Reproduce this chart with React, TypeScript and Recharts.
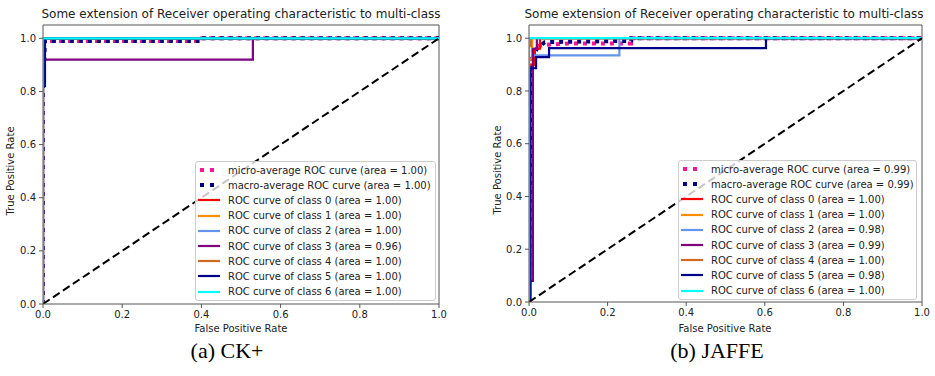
import React from 'react';
import { LineChart, Line, XAxis, YAxis, ReferenceLine } from 'recharts';

// ROC points as [fpr, tpr]
const ckMicro = [[0, 0], [0, 0.99], [0.39, 0.99], [0.39, 1], [1, 1]];
const ckMacro = [[0, 0], [0, 0.82], [0.005, 0.99], [0.39, 0.99], [0.39, 1], [1, 1]];
const ckClass0 = [[0, 0], [0, 1], [1, 1]];
const ckClass1 = [[0, 0], [0, 1], [1, 1]];
const ckClass2 = [[0, 0], [0, 1], [1, 1]];
const ckClass3 = [[0, 0], [0, 0.92], [0.53, 0.92], [0.53, 1], [1, 1]];
const ckClass4 = [[0, 0], [0, 1], [1, 1]];
const ckClass5 = [[0, 0], [0, 0.82], [0.005, 0.82], [0.005, 1], [1, 1]];
const ckClass6 = [[0, 0], [0, 1], [1, 1]];
const ckAreas = ['1.00', '1.00', '1.00', '1.00', '1.00', '0.96', '1.00', '1.00', '1.00'];

const jfMicro = [[0, 0], [0, 0.88], [0.005, 0.88], [0.005, 0.94], [0.01, 0.95], [0.02, 0.97], [0.04, 0.975], [0.1, 0.98], [0.26, 0.98], [0.26, 1], [1, 1]];
const jfMacro = [[0, 0], [0.003, 0.8], [0.01, 0.93], [0.02, 0.96], [0.04, 0.985], [0.26, 0.99], [0.26, 1], [1, 1]];
const jfClass0 = [[0, 0], [0, 0.9], [0.015, 0.9], [0.015, 0.96], [0.028, 0.96], [0.028, 1], [1, 1]];
const jfClass1 = [[0, 0], [0, 0.92], [0.008, 0.92], [0.008, 1], [1, 1]];
const jfClass2 = [[0, 0], [0, 0.88], [0.01, 0.88], [0.01, 0.935], [0.23, 0.935], [0.23, 1], [1, 1]];
const jfClass3 = [[0, 0], [0, 0.08], [0.01, 0.08], [0.01, 0.96], [0.02, 0.96], [0.02, 1], [1, 1]];
const jfClass4 = [[0, 0], [0, 0.97], [0.005, 0.97], [0.005, 1], [1, 1]];
const jfClass5 = [[0, 0], [0.004, 0], [0.004, 0.886], [0.018, 0.886], [0.018, 0.928], [0.051, 0.928], [0.051, 0.962], [0.603, 0.962], [0.603, 1], [1, 1]];
const jfClass6 = [[0, 0], [0, 1], [1, 1]];
const jfAreas = ['0.99', '0.99', '1.00', '1.00', '0.98', '0.99', '1.00', '0.98', '1.00'];

const chance = [[0, 0], [1, 1]];
const ticks = [0, 0.2, 0.4, 0.6, 0.8, 1.0];

const seriesNames = [
  'micro-average ROC curve',
  'macro-average ROC curve',
  'ROC curve of class 0',
  'ROC curve of class 1',
  'ROC curve of class 2',
  'ROC curve of class 3',
  'ROC curve of class 4',
  'ROC curve of class 5',
  'ROC curve of class 6',
];
const colors = ['#ff1493', '#000080', '#ff0000', '#ff8c00', '#6495ed', '#800080', '#d2691e', '#00008b', '#00ffff'];

const FONT = '"DejaVu Sans", sans-serif';
const SPINE = '#555';

const toRows = (pts: number[][]) => pts.map(([fpr, tpr]) => ({ fpr, tpr }));

function Legend({ areas, left, top, width }: any) {
  return (
    <div style={{
      position: 'absolute', left, top, width, height: 140, background: 'rgba(255,255,255,0.78)',
      border: '1px solid #ccc', borderRadius: 3, boxSizing: 'border-box', fontFamily: FONT, fontSize: 10, color: '#222',
    }}>
      {seriesNames.map((n, i) => (
        <div key={n} style={{ position: 'absolute', left: 2, top: 0.5 + i * 15.2, height: 15, display: 'flex', alignItems: 'center' }}>
          <svg width={24} height={6} style={{ marginRight: 6 }}>
            {i < 2
              ? <line x1={2} y1={3} x2={16} y2={3} stroke={colors[i]} strokeWidth={4} strokeDasharray="4 6" />
              : <line x1={0} y1={3} x2={22} y2={3} stroke={colors[i]} strokeWidth={2.2} />}
          </svg>
          <span style={{ whiteSpace: 'nowrap' }}>{`${n} (area = ${areas[i]})`}</span>
        </div>
      ))}
    </div>
  );
}

function RocPanel({ series, width, yWidth, rightMargin, bottomMargin }: any) {
  const tick = { fontSize: 10, fill: '#222', fontFamily: FONT };
  return (
    <LineChart width={width} height={340} margin={{ top: 25, right: rightMargin, left: 0, bottom: bottomMargin }}>
      <XAxis type="number" dataKey="fpr" domain={[0, 1]} ticks={ticks} allowDataOverflow
        tickFormatter={(v: number) => v.toFixed(1)} tick={tick} tickSize={4} tickMargin={3}
        stroke={SPINE} height={30} />
      <YAxis type="number" dataKey="tpr" domain={[0, 1.05]} ticks={ticks} allowDataOverflow
        tickFormatter={(v: number) => v.toFixed(1)} tick={tick} tickSize={4} tickMargin={3}
        stroke={SPINE} width={yWidth} />
      <ReferenceLine y={1.05} stroke={SPINE} />
      <ReferenceLine x={1} stroke={SPINE} />
      {series.map((pts: number[][], i: number) => (
        <Line key={i} data={toRows(pts)} dataKey="tpr" type="linear" dot={false} isAnimationActive={false}
          stroke={colors[i]} strokeWidth={i < 2 ? 4 : 2.2} strokeDasharray={i < 2 ? '4 5' : undefined} />
      ))}
      <Line data={toRows(chance)} dataKey="tpr" type="linear" dot={false} isAnimationActive={false}
        stroke="#000" strokeWidth={2} strokeDasharray="8 4" />
    </LineChart>
  );
}

const textBase: React.CSSProperties = { position: 'absolute', fontFamily: FONT, color: '#222', whiteSpace: 'nowrap', transform: 'translate(-50%, -50%)' };

export default function App() {
  const ck = [ckMicro, ckMacro, ckClass0, ckClass1, ckClass2, ckClass3, ckClass4, ckClass5, ckClass6];
  const jf = [jfMicro, jfMacro, jfClass0, jfClass1, jfClass2, jfClass3, jfClass4, jfClass5, jfClass6];
  return (
    <div style={{ position: 'absolute', left: 0, top: 0, width: 935, height: 376, background: '#fff', overflow: 'hidden' }}>
      <div style={{ position: 'absolute', left: 0, top: 0 }}>
        <RocPanel series={ck} width={460} yWidth={43} rightMargin={21} bottomMargin={6} />
      </div>
      <div style={{ position: 'absolute', left: 470, top: 0 }}>
        <RocPanel series={jf} width={465} yWidth={59} rightMargin={13} bottomMargin={8} />
      </div>

      <Legend areas={ckAreas} left={195} top={161} width={241} />
      <Legend areas={jfAreas} left={678} top={160} width={239} />

      <div style={{ ...textBase, left: 241, top: 14, fontSize: 12 }}>Some extension of Receiver operating characteristic to multi-class</div>
      <div style={{ ...textBase, left: 724, top: 14, fontSize: 12 }}>Some extension of Receiver operating characteristic to multi-class</div>

      <div style={{ ...textBase, left: 241, top: 328, fontSize: 10 }}>False Positive Rate</div>
      <div style={{ ...textBase, left: 725, top: 328, fontSize: 10 }}>False Positive Rate</div>
      <div style={{ ...textBase, left: 10, top: 171, fontSize: 10, transform: 'translate(-50%, -50%) rotate(-90deg)' }}>True Positive Rate</div>
      <div style={{ ...textBase, left: 497, top: 170, fontSize: 10, transform: 'translate(-50%, -50%) rotate(-90deg)' }}>True Positive Rate</div>

      <div style={{ ...textBase, left: 227, top: 351, fontSize: 22, fontFamily: '"Liberation Serif", serif', color: '#000' }}>(a) CK+</div>
      <div style={{ ...textBase, left: 717, top: 351, fontSize: 22, fontFamily: '"Liberation Serif", serif', color: '#000' }}>(b) JAFFE</div>
    </div>
  );
}
